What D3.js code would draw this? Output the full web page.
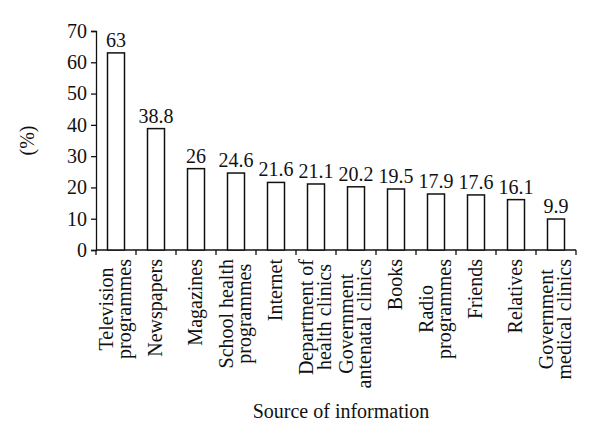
<!DOCTYPE html>
<html>
<head>
<meta charset="utf-8">
<script src="https://cdn.jsdelivr.net/npm/d3@7"></script>
<style>
  body { margin: 0; background: #fff; }
  text { font-family: "Liberation Serif", "DejaVu Serif", serif; fill: #111; }
</style>
</head>
<body>
<svg id="chart" width="600" height="444"></svg>
<script>
// data
var sources = [
  ["Television", "programmes"],
  ["Newspapers"],
  ["Magazines"],
  ["School health", "programmes"],
  ["Internet"],
  ["Department of", "health clinics"],
  ["Government", "antenatal clinics"],
  ["Books"],
  ["Radio", "programmes"],
  ["Friends"],
  ["Relatives"],
  ["Government", "medical clinics"]
];
var percents = [63, 38.8, 26, 24.6, 21.6, 21.1, 20.2, 19.5, 17.9, 17.6, 16.1, 9.9];
var yTicks = [0, 10, 20, 30, 40, 50, 60, 70];

var fs = "20px";
var margin = {top: 31, right: 24, bottom: 194, left: 96},
    width = 600 - margin.left - margin.right,
    height = 444 - margin.top - margin.bottom;

var svg = d3.select("#chart")
  .append("g")
    .attr("transform", "translate(" + margin.left + "," + margin.top + ")");

var x = d3.scaleBand()
    .domain(d3.range(sources.length))
    .range([0, width])
    .paddingInner(0.575)
    .paddingOuter(0.2875);

var y = d3.scaleLinear()
    .domain([0, 70])
    .range([height, 0]);

// y axis
var yAxis = svg.append("g")
    .call(d3.axisLeft(y).tickValues(yTicks).tickSize(5).tickPadding(4));
yAxis.select(".domain").attr("stroke", "#111").attr("stroke-width", 1.3);
yAxis.selectAll(".tick line").attr("stroke", "#111").attr("stroke-width", 1.3);
yAxis.selectAll("text").style("font-size", fs).attr("fill", "#111")
    .style("font-family", "Liberation Serif, serif");

// x axis: line plus ticks at the band edges
svg.append("line")
    .attr("x1", 0).attr("x2", width)
    .attr("y1", height).attr("y2", height)
    .attr("stroke", "#111").attr("stroke-width", 1.3);
var step = x.step();
svg.selectAll(".xtick")
  .data(d3.range(sources.length + 1))
  .enter().append("line")
    .attr("class", "xtick")
    .attr("x1", function(d) { return d * step; })
    .attr("x2", function(d) { return d * step; })
    .attr("y1", height).attr("y2", height + 5)
    .attr("stroke", "#111").attr("stroke-width", 1.3);

// bars
svg.selectAll(".bar")
  .data(percents)
  .enter().append("rect")
    .attr("class", "bar")
    .attr("x", function(d, i) { return x(i); })
    .attr("y", function(d) { return y(d); })
    .attr("width", x.bandwidth())
    .attr("height", function(d) { return height - y(d); })
    .attr("fill", "#fff")
    .attr("stroke", "#111")
    .attr("stroke-width", 1.5);

// value labels
svg.selectAll(".val")
  .data(percents)
  .enter().append("text")
    .attr("class", "val")
    .attr("x", function(d, i) { return x(i) + x.bandwidth() / 2; })
    .attr("y", function(d) { return y(d) - 6; })
    .attr("text-anchor", "middle")
    .style("font-size", fs)
    .text(function(d) { return d; });

// category labels, rotated, block hangs from just under the axis
var lineGap = 18;
sources.forEach(function(lines, i) {
  var cx = x(i) + x.bandwidth() / 2;
  var g = svg.append("g");
  var texts = lines.map(function(t) {
    return g.append("text").style("font-size", fs).attr("text-anchor", "middle").text(t);
  });
  var maxLen = d3.max(texts, function(t) { return t.node().getComputedTextLength(); });
  var midY = height + 9 + maxLen / 2;
  texts.forEach(function(t, k) {
    var bx = cx + 6 + (k - (lines.length - 1) / 2) * lineGap;
    t.attr("transform", "translate(" + bx + "," + midY + ") rotate(-90)");
  });
});

// axis titles
svg.append("text")
    .attr("transform", "translate(" + (-62) + "," + (height / 2) + ") rotate(-90)")
    .attr("text-anchor", "middle")
    .style("font-size", fs)
    .text("(%)");

svg.append("text")
    .attr("x", width / 2 + 5)
    .attr("y", height + 168)
    .attr("text-anchor", "middle")
    .style("font-size", fs)
    .text("Source of information");
</script>
</body>
</html>
